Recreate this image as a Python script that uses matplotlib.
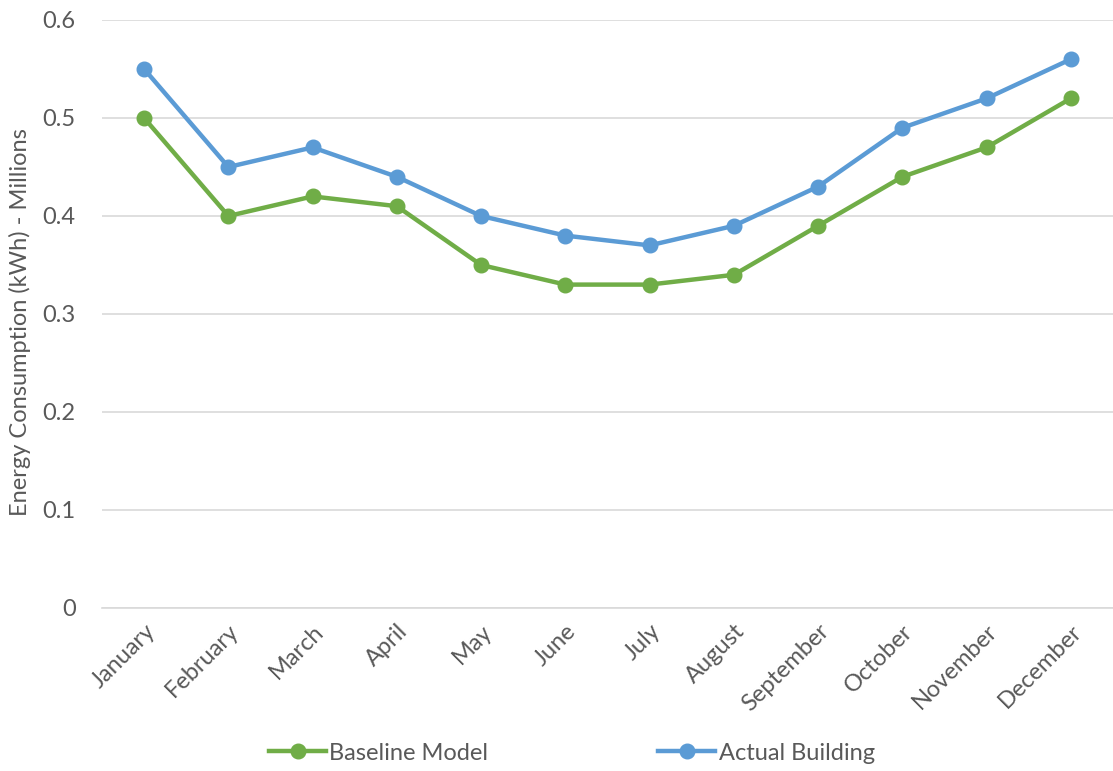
import matplotlib
matplotlib.use("Agg")
import matplotlib.pyplot as plt
from matplotlib.lines import Line2D

months = ["January", "February", "March", "April", "May", "June", "July",
          "August", "September", "October", "November", "December"]
baseline = [0.50, 0.40, 0.42, 0.41, 0.35, 0.33, 0.33, 0.34, 0.39, 0.44, 0.47, 0.52]
actual = [0.55, 0.45, 0.47, 0.44, 0.40, 0.38, 0.37, 0.39, 0.43, 0.49, 0.52, 0.56]
yticks = [0, 0.1, 0.2, 0.3, 0.4, 0.5, 0.6]
ytick_labels = ["0", "0.1", "0.2", "0.3", "0.4", "0.5", "0.6"]

plt.rcParams['font.family'] = ['Lato', 'DejaVu Sans']
text_color = "#595959"
green = "#70AD47"
blue = "#5B9BD5"
fs = 17

fig = plt.figure(figsize=(11.13, 7.71), dpi=100)
ax = fig.add_axes([102/1113, 163/771, 1011/1113, 588/771])

x = list(range(len(months)))
ax.plot(x, baseline, color=green, lw=3.2, marker='o', ms=10.5, zorder=3)
ax.plot(x, actual, color=blue, lw=3.2, marker='o', ms=10.5, zorder=3)

ax.set_xlim(-0.5, 11.5)
ax.set_ylim(0, 0.6)
ax.set_yticks(yticks)
ax.set_yticklabels(ytick_labels, fontsize=fs, color=text_color)
ax.set_xticks(x)
ax.set_xticklabels(months, rotation=45, ha='right', rotation_mode='anchor',
                   fontsize=fs, color=text_color)
ax.tick_params(axis='both', length=0)
ax.tick_params(axis='y', pad=19)
ax.tick_params(axis='x', pad=9)
ax.grid(axis='y', color="#D9D9D9", lw=1.2)
ax.set_axisbelow(True)
for s in ['top', 'right', 'left']:
    ax.spines[s].set_visible(False)
ax.spines['bottom'].set_color("#D9D9D9")
ax.spines['bottom'].set_linewidth(1.2)

fig.text(20/1113, 1 - 322/771, "Energy Consumption (kWh) - Millions", rotation=90,
         ha='center', va='center', fontsize=fs, color=text_color)

handles = [Line2D([], [], color=green, lw=3.2, marker='o', ms=10.5),
           Line2D([], [], color=blue, lw=3.2, marker='o', ms=10.5)]
leg = fig.legend(handles, ["Baseline Model", "Actual Building"], loc='center',
                 bbox_to_anchor=(572/1113, 1 - 753/771), ncol=2, frameon=False,
                 fontsize=fs, handlelength=2.4, handletextpad=0.15, columnspacing=7.2)
for t in leg.get_texts():
    t.set_color(text_color)

fig.savefig("out.png", dpi=100)
